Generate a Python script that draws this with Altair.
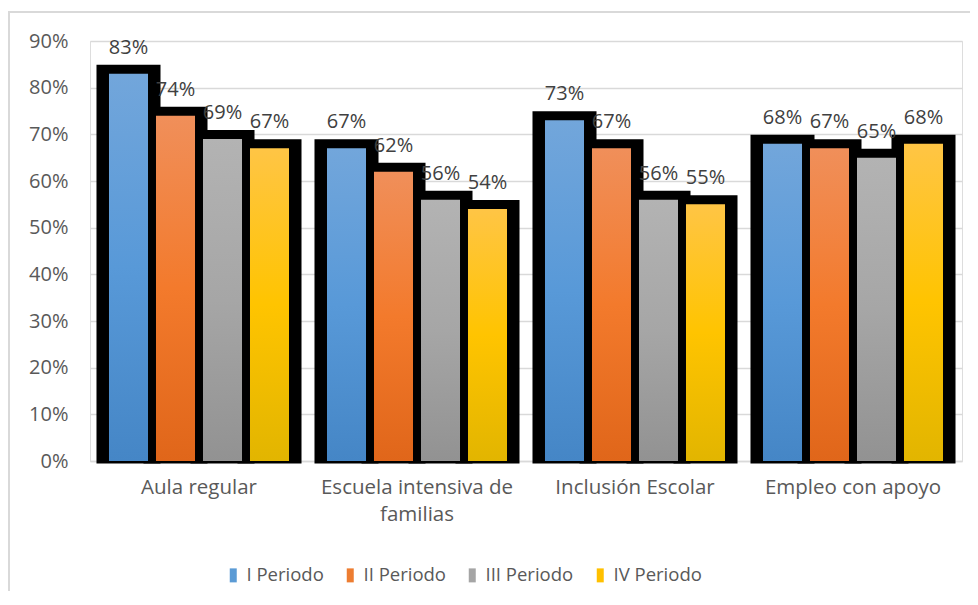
import altair as alt
import pandas as pd

categories = ["Aula regular", "Escuela intensiva de familias", "Inclusión Escolar", "Empleo con apoyo"]
periods = ["I Periodo", "II Periodo", "III Periodo", "IV Periodo"]
v_i = [0.83, 0.67, 0.73, 0.68]
v_ii = [0.74, 0.62, 0.67, 0.67]
v_iii = [0.69, 0.56, 0.56, 0.65]
v_iv = [0.67, 0.54, 0.55, 0.68]
y_ticks = [0, 0.1, 0.2, 0.3, 0.4, 0.5, 0.6, 0.7, 0.8, 0.9]

flat_colors = ["#5b9bd5", "#ed7d31", "#a5a5a5", "#ffc000"]
grad_stops = [
    ["#72a6db", "#5899d8", "#4586c6"],
    ["#f08f5a", "#f37a2c", "#e0661a"],
    ["#b3b3b3", "#a6a6a6", "#929292"],
    ["#ffc545", "#ffc400", "#e2b500"],
]

rows = []
for series, vals in zip(periods, [v_i, v_ii, v_iii, v_iv]):
    for cat, v in zip(categories, vals):
        rows.append({"categoria": cat, "periodo": series, "valor": v})
df = pd.DataFrame(rows)

FONT = "Open Sans"

x_enc = alt.X("categoria:N", sort=categories, title=None,
              scale=alt.Scale(paddingInner=0.1376, paddingOuter=0.0688),
              axis=alt.Axis(labelExpr="datum.label == 'Escuela intensiva de familias' ? ['Escuela intensiva de', 'familias'] : datum.label",
                            labelAngle=0, labelFontSize=20.5, labelColor="#595959", labelFont=FONT,
                            labelPadding=16, labelLineHeight=27, labelLimit=400,
                            ticks=False, domainColor="#d9d9d9", domainWidth=1.5, grid=False))
xo_enc = alt.XOffset("periodo:N", sort=periods, scale=alt.Scale(paddingInner=0.17, paddingOuter=0.085))
y_enc = alt.Y("valor:Q", title=None,
              scale=alt.Scale(domain=[0, 0.9], nice=False),
              axis=alt.Axis(values=y_ticks, format=".0%", labelFontSize=20, labelColor="#595959",
                            labelFont=FONT, labelPadding=22, ticks=False, domain=False,
                            gridColor="#d9d9d9", gridWidth=1.5))

base = alt.Chart(df)

shadow = base.mark_bar(color="black", stroke="black", strokeWidth=25, strokeJoin="miter",
                       yOffset=3.5, y2Offset=-10).encode(
    x=x_enc, xOffset=xo_enc, y=y_enc, y2=alt.datum(0)
)

def grad(stops):
    return {"gradient": "linear", "x1": 0, "y1": 0, "x2": 0, "y2": 1,
            "stops": [{"offset": 0, "color": stops[0]},
                      {"offset": 0.5, "color": stops[1]},
                      {"offset": 1, "color": stops[2]}]}

fill_def = {
    "condition": [
        {"test": f"datum.periodo == '{p}'", "value": grad(s)} for p, s in zip(periods[:3], grad_stops[:3])
    ],
    "value": grad(grad_stops[3]),
}

legend_layer = base.mark_bar(opacity=0).encode(
    x=x_enc, xOffset=xo_enc, y=y_enc,
    color=alt.Color("periodo:N", sort=periods, title=None,
                    scale=alt.Scale(domain=periods, range=flat_colors),
                    legend=alt.Legend(orient="none", legendX=134, legendY=525, direction="horizontal",
                                      symbolType="M-0.5,-1H0.5V1H-0.5Z", symbolSize=196,
                                      symbolOpacity=1, symbolStrokeWidth=0,
                                      labelFontSize=18.5, labelColor="#595959", labelFont=FONT,
                                      labelOffset=4, columnPadding=17, columns=4))
)

bars = base.mark_bar().encode(
    x=x_enc, xOffset=xo_enc, y=y_enc, fill=fill_def
)

labels = base.mark_text(baseline="alphabetic", dy=-20, fontSize=20, color="#404040", font=FONT).encode(
    x=x_enc, xOffset=xo_enc, y=y_enc, text=alt.Text("valor:Q", format=".0%")
)

border = alt.Chart(alt.Data(values=[{}])).mark_rect(fill=None, stroke="#d9d9d9", strokeWidth=2).encode(
    x=alt.value(-81), x2=alt.value(900), y=alt.value(-29), y2=alt.value(620)
)

chart = alt.layer(border, legend_layer, shadow, bars, labels).properties(
    width=872, height=420,
    autosize=alt.AutoSizeParams(type="none"),
    padding={"left": 82, "top": 33, "right": 8, "bottom": 130},
).configure_view(stroke=None).configure(background="white")

chart.save("out.html", embed_options={"renderer": "svg", "actions": False})
